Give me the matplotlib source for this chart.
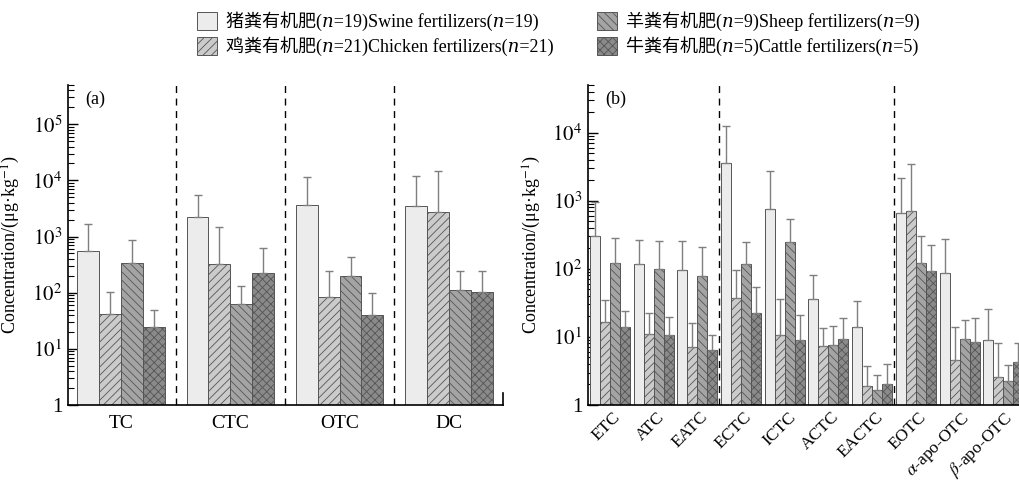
import numpy as np
import matplotlib
matplotlib.use("Agg")
import matplotlib.pyplot as plt
from matplotlib.patches import Patch
from matplotlib.ticker import LogLocator, FuncFormatter, NullFormatter
from matplotlib.transforms import ScaledTranslation

plt.rcParams['font.family'] = ['Liberation Serif', 'Noto Sans CJK SC', 'DejaVu Serif', 'DejaVu Sans']
plt.rcParams['mathtext.fontset'] = 'stix'
plt.rcParams['hatch.linewidth'] = 0.6

# ---- data (mean, mean+SD) ----
groups_a = ["TC", "CTC", "OTC", "DC"]
swine_a = [562, 2185, 3630, 3480]
chicken_a = [41.6, 321, 82.6, 2755]
sheep_a = [337, 62.8, 196, 112]
cattle_a = [24.4, 228, 39.9, 103]
swine_a_top = [1680, 5550, 11620, 11800]
chicken_a_top = [103, 1468, 244, 14900]
sheep_a_top = [884, 133, 428, 244]
cattle_a_top = [49.7, 628, 97, 244]

groups_b = ["ETC", "ATC", "EATC", "ECTC", "ICTC", "ACTC", "EACTC", "EOTC",
            r"$\alpha$-apo-OTC", r"$\beta$-apo-OTC"]
swine_b = [299, 118, 95.6, 3575, 748, 36.2, 14.1, 654, 87.5, 8.94]
chicken_b = [16.4, 10.9, 7.15, 37.4, 10.7, 7.23, 1.89, 708, 4.62, 2.56]
sheep_b = [122, 97.8, 78.2, 116, 245, 7.65, 1.64, 121, 9.35, 2.24]
cattle_b = [14.0, 10.5, 6.4, 22.1, 9.15, 9.35, 2.05, 92.5, 8.55, 4.28]
swine_b_top = [967, 264, 256, 12500, 2735, 81.8, 33.4, 2163, 273, 26.1]
chicken_b_top = [35, 22.6, 16.2, 94.6, 36.6, 13.7, 3.78, 3460, 14.1, 8.27]
sheep_b_top = [286, 256, 211, 250, 540, 14.5, 2.8, 306, 17.7, 3.91]
cattle_b_top = [23.9, 19.5, 10.7, 53.5, 20.7, 18.9, 4.04, 226, 19.1, 8.27]

labels = ["猪粪有机肥(\U0001D45B=19)Swine fertilizers(\U0001D45B=19)",
          "鸡粪有机肥(\U0001D45B=21)Chicken fertilizers(\U0001D45B=21)",
          "羊粪有机肥(\U0001D45B=9)Sheep fertilizers(\U0001D45B=9)",
          "牛粪有机肥(\U0001D45B=5)Cattle fertilizers(\U0001D45B=5)"]
faces = ["#ececec", "#cbcbcb", "#a4a4a4", "#8a8a8a"]
hatches = ["", "////", "\\\\\\\\", "xxxx"]
edge = "#555555"


def draw_panel(ax, names, series, tops, width, seps, ylim_top, tag):
    x = np.arange(len(names))
    for k in range(4):
        pos = x + (k - 1.5) * width
        ax.bar(pos, series[k], width, bottom=0, color=faces[k], hatch=hatches[k],
               edgecolor=edge, linewidth=0.7, zorder=2)
        vals = np.array(series[k])
        up = np.array(tops[k]) - vals
        ax.errorbar(pos, vals, yerr=[np.zeros_like(vals), up], fmt="none",
                    ecolor="#7f7f7f", elinewidth=1.0, capsize=3, capthick=1.0, zorder=3)
    for s in seps:
        ax.axvline(s, color="k", ls=(0, (5, 4)), lw=1.0, zorder=1)
    ax.set_yscale("log")
    ax.set_ylim(1, ylim_top)
    ax.yaxis.set_major_locator(LogLocator(base=10, numticks=12))
    ax.yaxis.set_minor_locator(LogLocator(base=10, subs=np.arange(2, 10), numticks=100))
    ax.yaxis.set_major_formatter(FuncFormatter(
        lambda v, p: "1" if abs(v - 1) < 1e-9 else r"$10^{%d}$" % round(np.log10(v))))
    ax.yaxis.set_minor_formatter(NullFormatter())
    ax.tick_params(axis="y", which="major", direction="in", length=7, width=1,
                   labelsize=15, pad=4)
    ax.tick_params(axis="y", which="minor", direction="in", length=4, width=0.8)
    ax.tick_params(axis="x", length=0, labelsize=14)
    ax.set_xticks(x)
    ax.spines["top"].set_visible(False)
    ax.spines["right"].set_visible(False)
    for sp in ("left", "bottom"):
        ax.spines[sp].set_linewidth(1.2)
    ax.set_ylabel("Concentration/(μg·kg$^{-1}$)", fontsize=13)
    ax.yaxis.set_label_coords(-0.105, 0.5)
    ax.text(0.04, 0.955, tag, transform=ax.transAxes, fontsize=13, va="center")


fig = plt.figure(figsize=(10.19, 4.83), dpi=100)

ax1 = fig.add_axes([68 / 1019, 78 / 483, 435 / 1019, 320 / 483])
draw_panel(ax1, groups_a,
           [swine_a, chicken_a, sheep_a, cattle_a],
           [swine_a_top, chicken_a_top, sheep_a_top, cattle_a_top],
           0.2, [0.5, 1.5, 2.5], 5e5, "(a)")
ax1.set_xlim(-0.485, 3.495)
ax1.set_xticklabels(groups_a)
ax1.tick_params(axis="x", pad=7)
ax1.plot([1, 1], [0, 0.037], transform=ax1.transAxes, color="k", lw=1.2, clip_on=False)

ax2 = fig.add_axes([588 / 1019, 78 / 483, 431 / 1019, 320 / 483])
draw_panel(ax2, groups_b,
           [swine_b, chicken_b, sheep_b, cattle_b],
           [swine_b_top, chicken_b_top, sheep_b_top, cattle_b_top],
           0.229, [2.5, 6.5], 5e4, "(b)")
ax2.set_xlim(-0.503, 9.36)
ax2.set_xticklabels(groups_b, rotation=45, ha="right")
ax2.tick_params(axis="x", pad=3, labelsize=12.5)
shift = ScaledTranslation(14 / 100, 0, fig.dpi_scale_trans)
for lab in ax2.get_xticklabels():
    lab.set_transform(lab.get_transform() + shift)

handles = [Patch(facecolor=faces[k], hatch=hatches[k], edgecolor=edge, linewidth=0.7)
           for k in range(4)]
fig.legend(handles, labels, ncol=2, loc="upper center", bbox_to_anchor=(0.548, 1.01),
           frameon=False, fontsize=13, handlelength=1.1, handleheight=1.1,
           handletextpad=0.5, columnspacing=2.4, labelspacing=0.3)

fig.savefig("out.png", dpi=100)
